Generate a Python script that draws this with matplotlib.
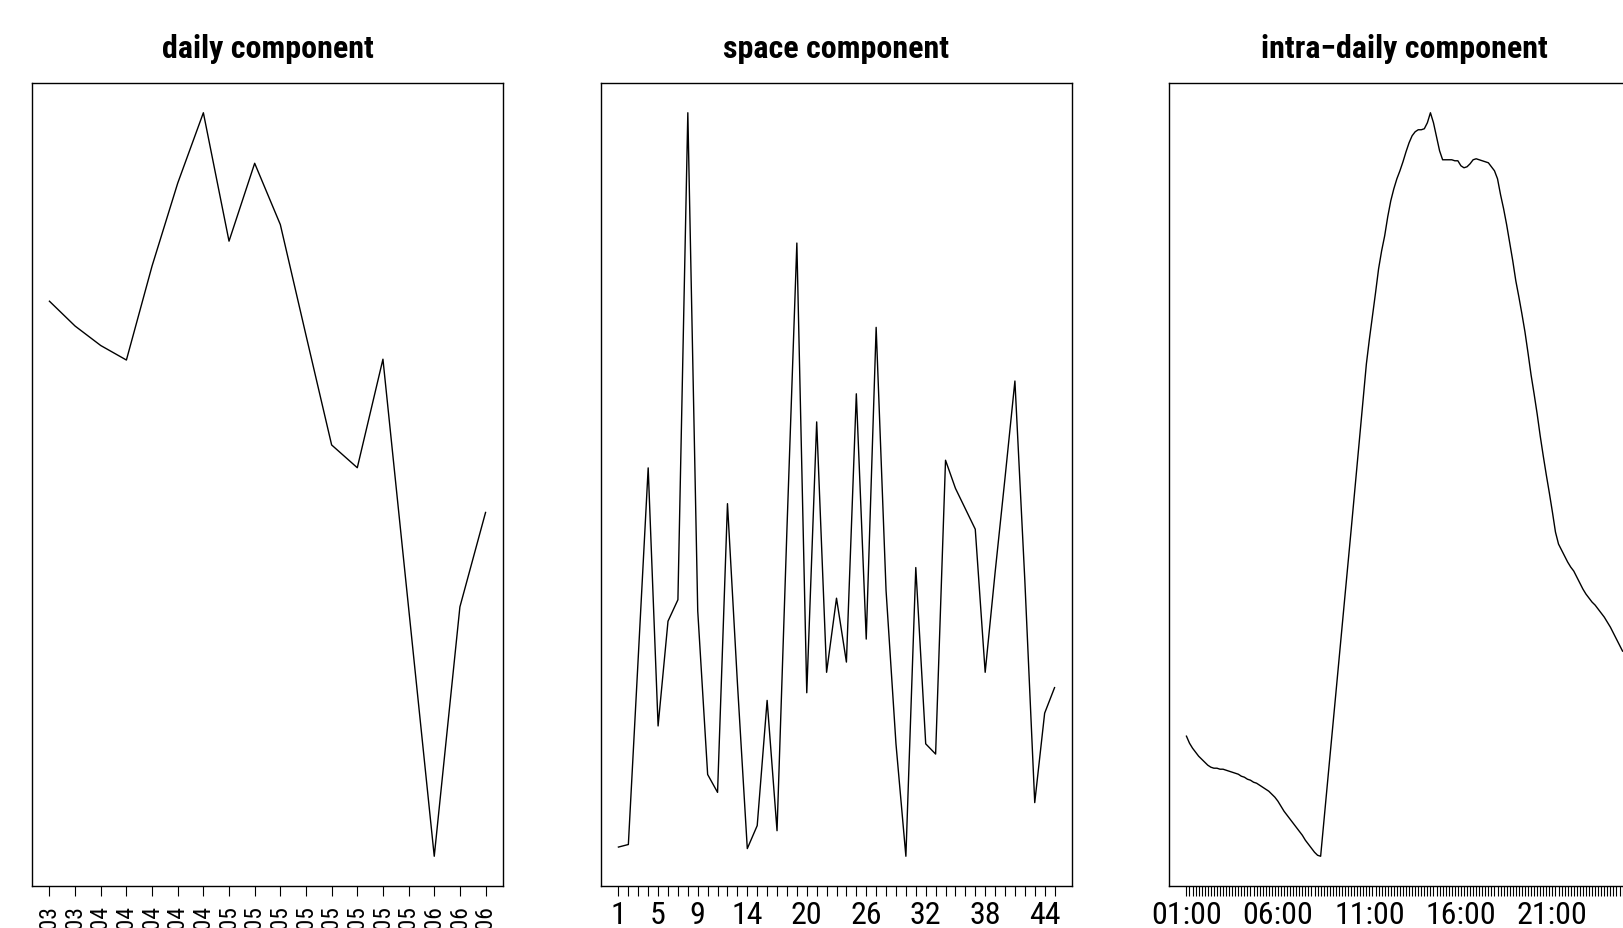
import numpy as np
import matplotlib.pyplot as plt

plt.rcParams['font.family'] = ['Roboto Condensed', 'DejaVu Sans']

# daily component, one value per day (x labels only show their last digit in the crop)
day_labels = ['2014-03', '2014-03', '2014-04', '2014-04', '2014-04', '2014-04',
              '2014-04', '2014-05', '2014-05', '2014-05', '2014-05', '2014-05',
              '2014-05', '2014-05', '2014-05', '2014-06', '2014-06', '2014-06']
daily = [0.520, 0.460, 0.413, 0.378, 0.605, 0.805, 0.975, 0.665, 0.853,
         0.705, 0.438, 0.173, 0.118, 0.380, -0.220, -0.820, -0.218, 0.010]

# space component, one value per site
sites = np.arange(1, 46)
sites_labelled = [1, 5, 9, 14, 20, 26, 32, 38, 44]
space = [-0.502, -0.497, -0.130, 0.240, -0.265, -0.060, -0.018, 0.935, -0.040,
         -0.360, -0.395, 0.170, -0.180, -0.505, -0.460, -0.215, -0.470, 0.120,
         0.680, -0.200, 0.330, -0.160, -0.015, -0.140, 0.385, -0.095, 0.515,
         0.000, -0.300, -0.520, 0.045, -0.300, -0.320, 0.255, 0.200, 0.160,
         0.120, -0.160, 0.035, 0.220, 0.410, 0.020, -0.415, -0.240, -0.190]

# intra-daily component, 10 minute slots starting 01:00
slots = ['%02d:%02d' % ((1 + i // 6) % 24, (i % 6) * 10) for i in range(144)]
slots_labelled = ['01:00', '06:00', '11:00', '16:00', '21:00']
intra = [0.063, 0.056, 0.051, 0.047, 0.043, 0.040, 0.037, 0.034, 0.032, 0.031,
         0.031, 0.030, 0.030, 0.029, 0.028, 0.027, 0.026, 0.025, 0.023, 0.022,
         0.020, 0.019, 0.017, 0.016, 0.014, 0.012, 0.010, 0.008, 0.005, 0.002,
         -0.002, -0.007, -0.012, -0.016, -0.020, -0.024, -0.028, -0.032, -0.036, -0.041,
         -0.045, -0.049, -0.053, -0.056, -0.057, -0.024, 0.008, 0.041, 0.073, 0.106,
         0.139, 0.171, 0.204, 0.236, 0.269, 0.302, 0.334, 0.367, 0.402, 0.435,
         0.460, 0.483, 0.506, 0.530, 0.548, 0.563, 0.582, 0.598, 0.610, 0.620,
         0.628, 0.637, 0.647, 0.656, 0.663, 0.667, 0.669, 0.669, 0.670, 0.676,
         0.686, 0.676, 0.662, 0.648, 0.639, 0.639, 0.639, 0.639, 0.638, 0.638,
         0.633, 0.631, 0.632, 0.635, 0.639, 0.640, 0.639, 0.638, 0.637, 0.636,
         0.632, 0.628, 0.620, 0.604, 0.590, 0.574, 0.556, 0.538, 0.518, 0.502,
         0.485, 0.467, 0.446, 0.424, 0.405, 0.385, 0.363, 0.343, 0.324, 0.306,
         0.287, 0.267, 0.255, 0.249, 0.243, 0.237, 0.232, 0.228, 0.222, 0.216,
         0.210, 0.205, 0.201, 0.197, 0.194, 0.190, 0.186, 0.182, 0.177, 0.172,
         0.166, 0.160, 0.154, 0.148]

W, H = 1624.0, 929.0
fig = plt.figure(figsize=(W / 100, H / 100), dpi=100)

def box(left_px):
    ax = fig.add_axes([left_px / W, (H - 887) / H, 471 / W, 803 / H])
    ax.margins(x=0.04, y=0.04)
    ax.set_yticks([])
    for s in ax.spines.values():
        s.set_linewidth(1.0)
    ax.tick_params(axis='x', direction='out', length=7.2, width=0.8,
                   pad=3, labelsize=23)
    return ax

ax1 = box(32)
ax2 = box(601)
ax3 = box(1169)

## daily
x1 = np.arange(len(daily))
ax1.plot(x1, daily, color='k', lw=1.0)
ax1.set_xticks(x1)
ax1.set_xticklabels(day_labels, rotation=90)
ax1.tick_params(axis='x', pad=6, labelsize=17)

## space
ax2.plot(sites, space, color='k', lw=1.0)
ax2.set_xticks(sites)
ax2.set_xticklabels([str(s) if s in sites_labelled else '' for s in sites])

## intra-daily
x3 = np.arange(len(intra))
ax3.plot(x3, intra, color='k', lw=1.0)
ax3.set_xticks(x3)
ax3.set_xticklabels([t if t in slots_labelled else '' for t in slots])

for ax, title in [(ax1, 'daily component'), (ax2, 'space component'),
                  (ax3, 'intra\u2212daily component')]:
    pos = ax.get_position()
    fig.text((pos.x0 + pos.x1) / 2, 1 - 58 / H, title, ha='center',
             va='baseline', fontsize=23, fontweight='bold')

fig.savefig('out.png', dpi=100)
